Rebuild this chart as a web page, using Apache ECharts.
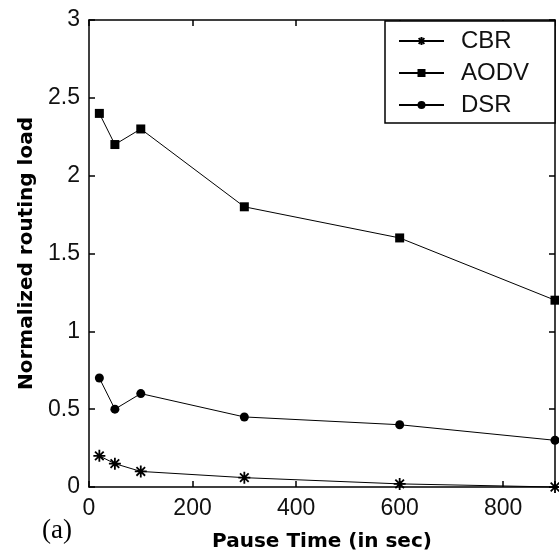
<!DOCTYPE html>
<html>
<head>
<meta charset="utf-8">
<script src="https://cdn.jsdelivr.net/npm/echarts@6/dist/echarts.min.js"></script>
<style>
  html, body { margin: 0; padding: 0; background: #fff; }
  #chart { width: 559px; height: 557px; }
</style>
</head>
<body>
<div id="chart"></div>
<script>
// Pause time (seconds) and normalized routing load per protocol
const pauseTimes = [20, 50, 100, 300, 600, 900];
const cbrLoad  = [0.2, 0.15, 0.1, 0.06, 0.02, 0];
const aodvLoad = [2.4, 2.2, 2.3, 1.8, 1.6, 1.2];
const dsrLoad  = [0.7, 0.5, 0.6, 0.45, 0.4, 0.3];
const seriesNames = ['CBR', 'AODV', 'DSR'];
const xTitle = 'Pause Time (in sec)';
const yTitle = 'Normalized routing load';
const panelTag = '(a)';

// Asterisk marker: vertical, horizontal and two diagonal strokes
const starPath = 'path://M0,-5L0,5M-5,0L5,0M-3.6,-3.6L3.6,3.6M-3.6,3.6L3.6,-3.6';

const pairs = vals => pauseTimes.map((x, i) => [x, vals[i]]);

const axisLine = { onZero: false, lineStyle: { color: '#000', width: 1.5 } };
const axisTick = { inside: true, length: 6, lineStyle: { color: '#000', width: 1.5 } };
const tickFont = { fontFamily: 'Liberation Sans', fontSize: 23, color: '#111' };
const titleFont = { fontFamily: 'DejaVu Sans', fontWeight: 'bold', fontSize: 20, color: '#000' };

function lineSeries(name, vals, symbol, size, borderWidth) {
  return {
    name: name,
    type: 'line',
    xAxisIndex: 0,
    yAxisIndex: 0,
    data: pairs(vals),
    symbol: symbol,
    symbolSize: size,
    showAllSymbol: true,
    clip: false,
    lineStyle: { color: '#000', width: 1 },
    itemStyle: { color: '#000', borderColor: '#000', borderWidth: borderWidth },
    emphasis: { disabled: true }
  };
}

const chart = echarts.init(document.getElementById('chart'), null, { renderer: 'canvas' });
chart.setOption({
  animation: false,
  backgroundColor: '#fff',
  grid: { left: 89, top: 20, width: 466, height: 468 },
  legend: {
    orient: 'vertical',
    left: 385,
    top: 21,
    z: 10,
    itemWidth: 45,
    itemHeight: 10,
    itemGap: 8,
    padding: [8, 0, 0, 13],
    textStyle: { fontFamily: 'Liberation Sans', fontSize: 24, color: '#111', padding: [0, 0, 0, 12] },
    data: seriesNames
  },
  xAxis: [
    {
      type: 'value', position: 'bottom', min: 0, max: 900, interval: 200,
      axisLine: axisLine, axisTick: axisTick, splitLine: { show: false },
      axisLabel: Object.assign({ margin: 10, showMaxLabel: false }, tickFont),
      name: xTitle, nameLocation: 'middle', nameGap: 45, nameTextStyle: titleFont
    },
    {
      type: 'value', position: 'top', min: 0, max: 900, interval: 200,
      axisLine: axisLine, axisTick: axisTick, splitLine: { show: false },
      axisLabel: { show: false }
    }
  ],
  yAxis: [
    {
      type: 'value', position: 'left', min: 0, max: 3, interval: 0.5,
      axisLine: axisLine, axisTick: axisTick, splitLine: { show: false },
      axisLabel: Object.assign({ margin: 9 }, tickFont),
      name: yTitle, nameLocation: 'middle', nameGap: 52, nameTextStyle: titleFont
    },
    {
      type: 'value', position: 'right', min: 0, max: 3, interval: 0.5,
      axisLine: axisLine, axisTick: axisTick, splitLine: { show: false },
      axisLabel: { show: false }
    }
  ],
  graphic: [
    {
      // frame around the legend entries
      type: 'rect', z: 5,
      shape: { x: 385, y: 21, width: 170, height: 102 },
      style: { fill: '#fff', stroke: '#000', lineWidth: 1.5 }
    },
    {
      type: 'text', left: 42, top: 517,
      style: { text: panelTag, font: '27px "Liberation Serif"', fill: '#000' }
    }
  ],
  series: [
    lineSeries(seriesNames[0], cbrLoad, starPath, 12, 1.8),
    lineSeries(seriesNames[1], aodvLoad, 'rect', 9, 0),
    lineSeries(seriesNames[2], dsrLoad, 'circle', 9, 0)
  ]
});
</script>
</body>
</html>
